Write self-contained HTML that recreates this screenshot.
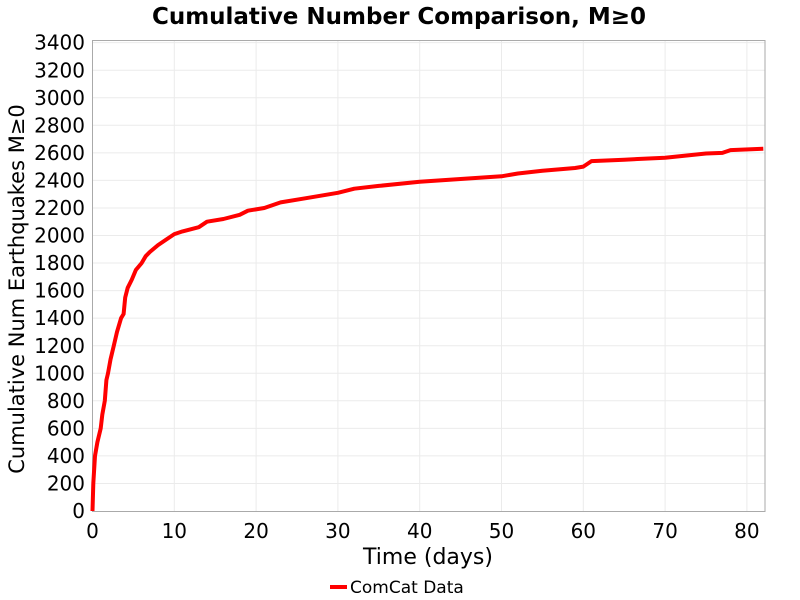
<!DOCTYPE html>
<html><head><meta charset="utf-8"><style>
html,body{margin:0;padding:0;background:#fff;}
svg{display:block;font-family:"DejaVu Sans","Liberation Sans",sans-serif;}
</style></head><body>
<svg width="800" height="600" xmlns="http://www.w3.org/2000/svg">
<rect width="800" height="600" fill="#fff"/>
<text x="399" y="24" text-anchor="middle" font-size="23" font-weight="bold">Cumulative Number Comparison, M≥0</text>
<g stroke="#ebebeb" stroke-width="1">
<line x1="92.5" x2="765" y1="483.45" y2="483.45"/><line x1="92.5" x2="765" y1="455.9" y2="455.9"/><line x1="92.5" x2="765" y1="428.35" y2="428.35"/><line x1="92.5" x2="765" y1="400.8" y2="400.8"/><line x1="92.5" x2="765" y1="373.25" y2="373.25"/><line x1="92.5" x2="765" y1="345.7" y2="345.7"/><line x1="92.5" x2="765" y1="318.15" y2="318.15"/><line x1="92.5" x2="765" y1="290.6" y2="290.6"/><line x1="92.5" x2="765" y1="263.05" y2="263.05"/><line x1="92.5" x2="765" y1="235.5" y2="235.5"/><line x1="92.5" x2="765" y1="207.95" y2="207.95"/><line x1="92.5" x2="765" y1="180.4" y2="180.4"/><line x1="92.5" x2="765" y1="152.85" y2="152.85"/><line x1="92.5" x2="765" y1="125.3" y2="125.3"/><line x1="92.5" x2="765" y1="97.75" y2="97.75"/><line x1="92.5" x2="765" y1="70.2" y2="70.2"/><line x1="92.5" x2="765" y1="42.65" y2="42.65"/>
<line y1="40.5" y2="511" x1="174.3" x2="174.3"/><line y1="40.5" y2="511" x1="256.1" x2="256.1"/><line y1="40.5" y2="511" x1="337.9" x2="337.9"/><line y1="40.5" y2="511" x1="419.7" x2="419.7"/><line y1="40.5" y2="511" x1="501.5" x2="501.5"/><line y1="40.5" y2="511" x1="583.3" x2="583.3"/><line y1="40.5" y2="511" x1="665.1" x2="665.1"/><line y1="40.5" y2="511" x1="746.9" x2="746.9"/>
</g>
<rect x="92.5" y="40.5" width="672.5" height="471" fill="none" stroke="#aaa" stroke-width="1"/>
<polyline fill="none" stroke="#ff0000" stroke-width="4" stroke-linejoin="round" points="92.5,511 93.3,483.4 95,455.9 97.4,442.1 100.7,428.4 102.3,414.6 104.8,400.8 106.4,380.1 108,373.3 110.5,359.5 113.8,345.7 117,331.9 121.1,318.1 123.6,314 125.2,297.5 127.7,287.8 131.8,279.6 135.9,269.9 141.6,263.1 145.7,256.2 149.8,252 158,245.1 166.1,239.6 174.3,234.1 182.5,231.4 198.8,227.2 207,221.7 223.4,219 239.7,214.8 247.9,210.7 264.3,208 280.6,202.4 305.2,198.3 337.9,192.8 354.3,188.7 378.8,185.9 419.7,181.8 460.6,179 501.5,176.3 517.9,173.5 542.4,170.8 575.1,168 583.3,166.6 591.5,161.1 624.2,159.7 665.1,157.7 706,153.5 722.4,152.9 730.5,150.1 763.3,148.7"/>
<g font-size="20" text-anchor="end" fill="#000">
<text x="85" y="518">0</text><text x="85" y="490.5">200</text><text x="85" y="463">400</text><text x="85" y="435.4">600</text><text x="85" y="407.9">800</text><text x="85" y="380.3">1000</text><text x="85" y="352.8">1200</text><text x="85" y="325.2">1400</text><text x="85" y="297.7">1600</text><text x="85" y="270.1">1800</text><text x="85" y="242.6">2000</text><text x="85" y="215">2200</text><text x="85" y="187.5">2400</text><text x="85" y="159.9">2600</text><text x="85" y="132.4">2800</text><text x="85" y="104.8">3000</text><text x="85" y="77.3">3200</text><text x="85" y="49.7">3400</text>
</g>
<g font-size="20" text-anchor="middle">
<text x="92.5" y="538">0</text><text x="174.3" y="538">10</text><text x="256.1" y="538">20</text><text x="337.9" y="538">30</text><text x="419.7" y="538">40</text><text x="501.5" y="538">50</text><text x="583.3" y="538">60</text><text x="665.1" y="538">70</text><text x="746.9" y="538">80</text>
</g>
<text x="428" y="564" text-anchor="middle" font-size="22">Time (days)</text>
<text transform="translate(24,289) rotate(-90)" text-anchor="middle" font-size="21">Cumulative Num Earthquakes M≥0</text>
<line x1="330" x2="347" y1="587" y2="587" stroke="#ff0000" stroke-width="4"/>
<text x="350" y="593" font-size="17">ComCat Data</text>
</svg>
</body></html>
